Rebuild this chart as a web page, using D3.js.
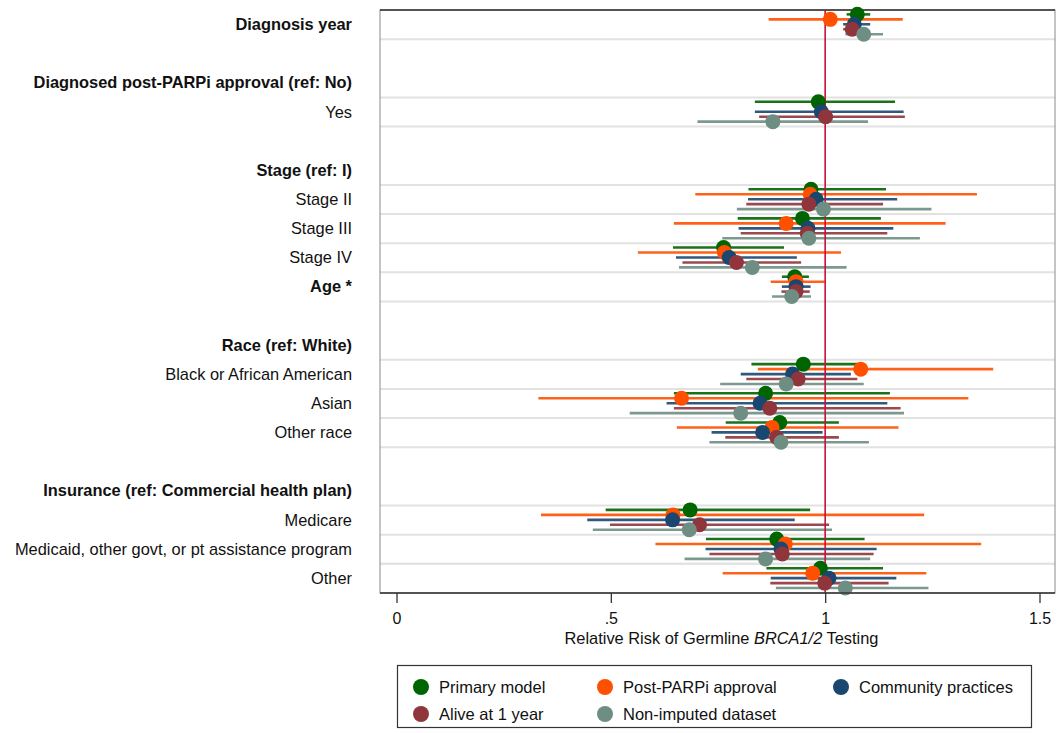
<!DOCTYPE html>
<html><head><meta charset="utf-8">
<script src="https://cdn.jsdelivr.net/npm/d3@7/dist/d3.min.js"></script>
<style>body{margin:0;background:#fff}svg{display:block;font-family:"Liberation Sans",Arial,sans-serif}</style>
</head><body><svg id="c" width="1057" height="733"></svg>
<script>
const rowLabels = ["Diagnosis year","","Diagnosed post-PARPi approval (ref: No)","Yes","","Stage (ref: I)","Stage II","Stage III","Stage IV","Age *","","Race (ref: White)","Black or African American","Asian","Other race","","Insurance (ref: Commercial health plan)","Medicare","Medicaid, other govt, or pt assistance program","Other"];
const boldRows = [0,2,5,9,11,16];
const dataRows = [0,3,6,7,8,9,12,13,14,17,18,19];
const seriesNames = ["Primary model","Post-PARPi approval","Community practices","Alive at 1 year","Non-imputed dataset"];
const seriesColors = ["#006400","#ff5000","#1a476f","#90353b","#6e8e84"];
const xTicks = [0,0.5,1,1.5];
const xTickLabels = ["0",".5","1","1.5"];

const primaryEst = [1.075,0.984,0.967,0.947,0.763,0.929,0.949,0.861,0.894,0.685,0.887,0.989];
const primaryLo  = [1.050,0.836,0.821,0.796,0.645,0.899,0.828,0.647,0.768,0.488,0.722,0.863];
const primaryHi  = [1.105,1.163,1.142,1.130,0.904,0.962,1.075,1.151,1.032,0.965,1.092,1.135];

const parpEst = [1.012,null,0.965,0.909,0.765,0.932,1.083,0.665,0.876,0.645,0.907,0.971];
const parpLo  = [0.868,null,0.697,0.647,0.563,0.873,0.843,0.331,0.654,0.337,0.604,0.761];
const parpHi  = [1.181,null,1.354,1.281,1.037,0.999,1.392,1.334,1.171,1.231,1.364,1.236];

const commEst = [1.068,0.991,0.979,0.960,0.776,0.932,0.924,0.848,0.854,0.644,0.897,1.009];
const commLo  = [1.042,0.836,0.820,0.798,0.652,0.899,0.803,0.630,0.735,0.445,0.721,0.873];
const commHi  = [1.105,1.183,1.168,1.159,0.934,0.966,1.060,1.145,0.994,0.929,1.120,1.166];

const aliveEst = [1.063,1.001,0.962,0.958,0.793,0.932,0.937,0.871,0.887,0.707,0.900,0.999];
const aliveLo  = [1.042,0.846,0.816,0.803,0.667,0.898,0.816,0.647,0.767,0.498,0.730,0.872];
const aliveHi  = [1.090,1.186,1.135,1.145,0.944,0.964,1.075,1.176,1.032,1.009,1.113,1.148];

const nonimpEst = [1.090,0.878,0.996,0.962,0.830,0.922,0.909,0.803,0.897,0.683,0.861,1.047];
const nonimpLo  = [1.047,0.702,0.794,0.760,0.659,0.876,0.755,0.544,0.730,0.458,0.672,0.885];
const nonimpHi  = [1.135,1.100,1.248,1.221,1.050,0.967,1.090,1.184,1.102,1.016,1.105,1.241];

const seriesData = [
  [primaryEst,primaryLo,primaryHi],
  [parpEst,parpLo,parpHi],
  [commEst,commLo,commHi],
  [aliveEst,aliveLo,aliveHi],
  [nonimpEst,nonimpLo,nonimpHi]
];

const svg = d3.select("#c");
const plotL = 380, plotR = 1055, plotT = 10, plotB = 593;
const x = d3.scaleLinear().domain([0,1.5]).range([396.5,1039.5]);
const y = d3.scaleBand().domain(d3.range(rowLabels.length)).range([plotT,plotB]).padding(0);
const rh = y.bandwidth();
const off = d3.scaleLinear().domain([0,4]).range([-rh*0.35,rh*0.33]);

// gridlines at data-row boundaries
const bounds = new Set();
dataRows.forEach(r=>{bounds.add(y(r)); bounds.add(y(r)+rh);});
svg.append("g").selectAll("line").data([...bounds]).join("line")
  .attr("x1",plotL).attr("x2",plotR).attr("y1",d=>d).attr("y2",d=>d)
  .attr("stroke","#e2e2e2").attr("stroke-width",2);

// frame
svg.append("rect").attr("x",plotL).attr("y",plotT).attr("width",plotR-plotL).attr("height",plotB-plotT)
  .attr("fill","none").attr("stroke","#8a8a8a").attr("stroke-width",1);
svg.append("line").attr("x1",plotL).attr("x2",plotR).attr("y1",plotT).attr("y2",plotT).attr("stroke","#333").attr("stroke-width",1.6);

// labels
svg.append("g").selectAll("text").data(rowLabels).join("text")
  .attr("x",352).attr("y",(d,i)=>y(i)+rh/2+5.5)
  .attr("text-anchor","end").attr("font-size",16.4)
  .attr("font-weight",(d,i)=>boldRows.includes(i)?"bold":"normal")
  .attr("fill","#111").text(d=>d);

// CI lines
seriesData.forEach((s,si)=>{
  const pts = dataRows.map((r,k)=>({r,est:s[0][k],lo:s[1][k],hi:s[2][k]})).filter(p=>p.est!==null);
  svg.append("g").selectAll("line").data(pts).join("line")
    .attr("x1",p=>x(p.lo)).attr("x2",p=>x(p.hi))
    .attr("y1",p=>y(p.r)+rh/2+off(si)).attr("y2",p=>y(p.r)+rh/2+off(si))
    .attr("stroke",seriesColors[si]).attr("stroke-width",2.6).attr("stroke-opacity",0.9);
});

// reference line
svg.append("line").attr("x1",x(1)).attr("x2",x(1)).attr("y1",plotT).attr("y2",plotB)
  .attr("stroke","#c8103a").attr("stroke-width",1.6);

// markers
seriesData.forEach((s,si)=>{
  const pts = dataRows.map((r,k)=>({r,est:s[0][k]})).filter(p=>p.est!==null);
  svg.append("g").selectAll("circle").data(pts).join("circle")
    .attr("cx",p=>x(p.est)).attr("cy",p=>y(p.r)+rh/2+off(si)).attr("r",7.5)
    .attr("fill",seriesColors[si]);
});

// x axis
svg.append("line").attr("x1",plotL).attr("x2",plotR).attr("y1",plotB).attr("y2",plotB).attr("stroke","#333").attr("stroke-width",1.6);
const ax = svg.append("g").attr("transform",`translate(0,${plotB})`)
  .call(d3.axisBottom(x).tickValues(xTicks).tickFormat((d,i)=>xTickLabels[i]).tickSize(10).tickPadding(10));
ax.select(".domain").remove();
ax.selectAll(".tick line").attr("stroke","#333").attr("stroke-width",1.3);
ax.selectAll(".tick text").attr("font-size",16).attr("fill","#111").attr("font-family","Liberation Sans, Arial, sans-serif");

const title = svg.append("text").attr("x",(plotL+plotR)/2+4).attr("y",644).attr("text-anchor","middle").attr("font-size",16.4).attr("fill","#111");
title.append("tspan").text("Relative Risk of Germline ");
title.append("tspan").attr("font-style","italic").text("BRCA1/2");
title.append("tspan").text(" Testing");

// legend
svg.append("rect").attr("x",397.5).attr("y",665.5).attr("width",634).attr("height",62)
  .attr("fill","#fff").attr("stroke","#333").attr("stroke-width",1.2);
const legPos = [[421,687],[605,687],[841,687],[421,714],[605,714]];
const lg = svg.append("g").selectAll("g").data(seriesNames).join("g")
  .attr("transform",(d,i)=>`translate(${legPos[i][0]},${legPos[i][1]})`);
lg.append("circle").attr("r",8).attr("fill",(d,i)=>seriesColors[i]);
lg.append("text").attr("x",18).attr("y",5.5).attr("font-size",16.5).attr("fill","#111").text(d=>d);
</script></body></html>
